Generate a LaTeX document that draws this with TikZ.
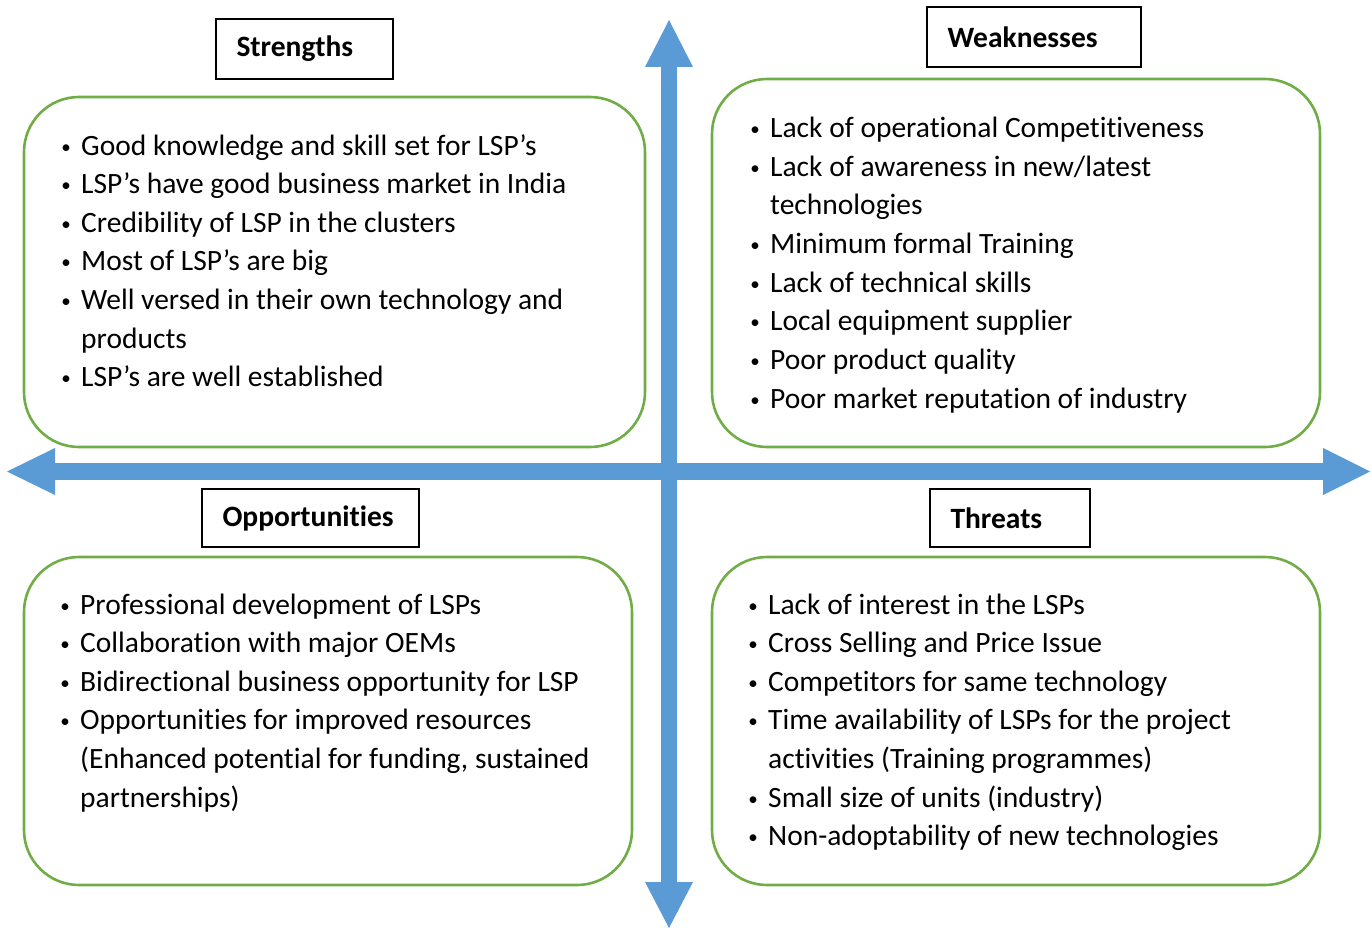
\documentclass[tikz,border=0pt]{standalone}
\usepackage{fontspec}
\setmainfont[Ligatures=NoCommon]{Carlito}
\begin{document}
\begin{tikzpicture}[x=1pt,y=-1pt,
  txt/.style={anchor=base west,inner sep=0pt,font=\fontsize{29.5}{38}\selectfont,yshift=-2.5pt},
  bul/.style={anchor=base,inner sep=0pt,font=\fontsize{19}{38}\selectfont,yshift=-0.5pt},
  ttl/.style={draw=black,line width=1.3pt,inner xsep=20.5pt,inner ysep=0pt,align=left,font=\fontsize{29.5}{38}\selectfont\bfseries},
  quad/.style={draw=qgreen,line width=2.6pt,rounded corners=55pt},
  axis/.style={fill=qblue,draw=none}]
\definecolor{qgreen}{HTML}{70AD47}
\definecolor{qblue}{HTML}{5B9BD5}
\useasboundingbox (0,0) rectangle (1372,928);
% axes
\fill[axis] (661,60) rectangle (677,890);
\fill[axis] (50,463) rectangle (1330,480);
\fill[axis] (669,20) -- (693,67) -- (645,67) -- cycle;
\fill[axis] (669,928) -- (693,882) -- (645,882) -- cycle;
\fill[axis] (7,471.5) -- (55,448) -- (55,495) -- cycle;
\fill[axis] (1370,471.5) -- (1323,448) -- (1323,495) -- cycle;
% quadrant boxes
\draw[quad] (24,97) rectangle (645,447);
\draw[quad] (712,79) rectangle (1320,447);
\draw[quad] (24,557) rectangle (632,885);
\draw[quad] (712,557) rectangle (1320,885);
% titles
\node[ttl,text width=136pt,minimum height=60pt] (ts) at (304.5,49) {Strengths};
\node[ttl,text width=173pt,minimum height=60pt] (tw) at (1034,37) {Weaknesses};
\node[ttl,text width=176pt,minimum height=58pt] (to) at (310.5,518) {Opportunities};
\node[ttl,text width=119pt,minimum height=58pt] (tt) at (1010,518) {Threats};
% Strengths
\node[bul] (sb1) at (66,153) {•}; \node[txt] (s1) at (81,153) {Good knowledge and skill set for LSP’s};
\node[bul] (sb2) at (66,191) {•}; \node[txt] (s2) at (81,191) {LSP’s have good business market in India};
\node[bul] (sb3) at (66,230) {•}; \node[txt] (s3) at (81,230) {Credibility of LSP in the clusters};
\node[bul] (sb4) at (66,268) {•}; \node[txt] (s4) at (81,268) {Most of LSP’s are big};
\node[bul] (sb5) at (66,307) {•}; \node[txt] (s5) at (81,307) {Well versed in their own technology and};
\node[txt] (s6) at (81,346) {products};
\node[bul] (sb7) at (66,384) {•}; \node[txt] (s7) at (81,384) {LSP’s are well established};
% Weaknesses
\node[bul] (wb1) at (755,135) {•}; \node[txt] (w1) at (770,135) {Lack of operational Competitiveness};
\node[bul] (wb2) at (755,174) {•}; \node[txt] (w2) at (770,174) {Lack of awareness in new/latest};
\node[txt] (w3) at (770,212) {technologies};
\node[bul] (wb4) at (755,251) {•}; \node[txt] (w4) at (770,251) {Minimum formal Training};
\node[bul] (wb5) at (755,290) {•}; \node[txt] (w5) at (770,290) {Lack of technical skills};
\node[bul] (wb6) at (755,328) {•}; \node[txt] (w6) at (770,328) {Local equipment supplier};
\node[bul] (wb7) at (755,367) {•}; \node[txt] (w7) at (770,367) {Poor product quality};
\node[bul] (wb8) at (755,406) {•}; \node[txt] (w8) at (770,406) {Poor market reputation of industry};
% Opportunities
\node[bul] (ob1) at (65,612) {•}; \node[txt] (o1) at (80,612) {Professional development of LSPs};
\node[bul] (ob2) at (65,650) {•}; \node[txt] (o2) at (80,650) {Collaboration with major OEMs};
\node[bul] (ob3) at (65,689) {•}; \node[txt] (o3) at (80,689) {Bidirectional business opportunity for LSP};
\node[bul] (ob4) at (65,727) {•}; \node[txt] (o4) at (80,727) {Opportunities for improved resources};
\node[txt] (o5) at (80,766) {(Enhanced potential for funding, sustained};
\node[txt] (o6) at (80,805) {partnerships)};
% Threats
\node[bul] (tb1) at (753,612) {•}; \node[txt] (t1) at (768,612) {Lack of interest in the LSPs};
\node[bul] (tb2) at (753,650) {•}; \node[txt] (t2) at (768,650) {Cross Selling and Price Issue};
\node[bul] (tb3) at (753,689) {•}; \node[txt] (t3) at (768,689) {Competitors for same technology};
\node[bul] (tb4) at (753,727) {•}; \node[txt] (t4) at (768,727) {Time availability of LSPs for the project};
\node[txt] (t5) at (768,766) {activities (Training programmes)};
\node[bul] (tb6) at (753,805) {•}; \node[txt] (t6) at (768,805) {Small size of units (industry)};
\node[bul] (tb7) at (753,843) {•}; \node[txt] (t7) at (768,843) {Non-adoptability of new technologies};
\end{tikzpicture}
\end{document}
